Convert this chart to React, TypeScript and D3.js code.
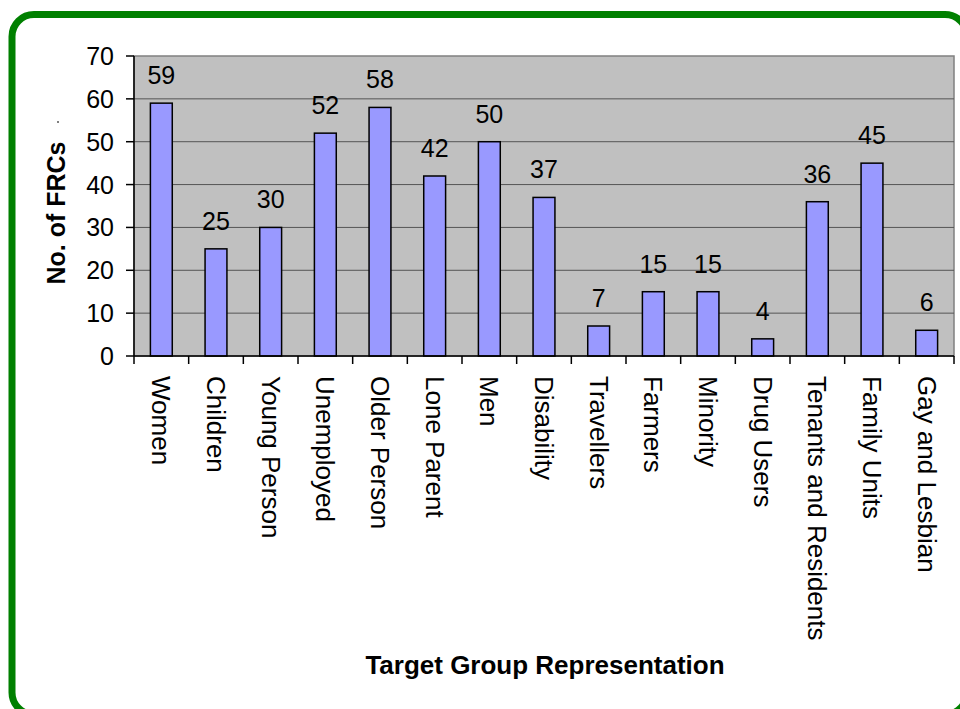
import React from "react";
import * as d3 from "d3";

const width = 960;
const height = 709;
const margin = { top: 56, right: 6, bottom: 353, left: 134 };

const groups = [
  "Women", "Children", "Young Person", "Unemployed", "Older Person", "Lone Parent", "Men",
  "Disability", "Travellers", "Farmers", "Minority", "Drug Users", "Tenants and Residents",
  "Family Units", "Gay and Lesbian",
];
const counts = [59, 25, 30, 52, 58, 42, 50, 37, 7, 15, 15, 4, 36, 45, 6];
const yTicks = [0, 10, 20, 30, 40, 50, 60, 70];

const font = "Arial, 'Liberation Sans', Helvetica, sans-serif";

export default function App() {
  const x = d3.scaleBand<string>()
    .domain(groups)
    .range([margin.left, width - margin.right])
    .paddingInner(0)
    .paddingOuter(0);
  const y = d3.scaleLinear()
    .domain([0, 70])
    .range([height - margin.bottom, margin.top]);

  const bw = x.bandwidth();
  const barW = bw * 0.4;
  const y0 = y(0);
  const boundaries = groups.map((g) => x(g) as number).concat([width - margin.right]);

  return (
    <svg width={width} height={height} style={{ position: "absolute", left: 0, top: 0, background: "#fff" }}>
      {/* green rounded frame, cut off by the page on the right and bottom */}
      <rect x={12} y={14.5} width={955} height={700} rx={22} ry={22} fill="none" stroke="#008000" strokeWidth={7} />

      <rect x={margin.left} y={margin.top} width={width - margin.right - margin.left}
        height={y0 - margin.top} fill="#C0C0C0" stroke="#808080" strokeWidth={1.5} />

      {yTicks.filter((t) => t > 0 && t < 70).map((t) => (
        <line key={t} x1={margin.left} x2={width - margin.right} y1={y(t)} y2={y(t)} stroke="#555" strokeWidth={1} />
      ))}

      {groups.map((g, i) => (
        <rect key={g} x={(x(g) as number) + bw / 2 - barW / 2} y={y(counts[i])}
          width={barW} height={y0 - y(counts[i])} fill="#9999FF" stroke="#000" strokeWidth={1.5} />
      ))}

      {groups.map((g, i) => (
        <text key={g} x={(x(g) as number) + bw / 2} y={y(counts[i]) - 19} textAnchor="middle"
          fontFamily={font} fontSize={25} fill="#000">{counts[i]}</text>
      ))}

      <line x1={margin.left} x2={margin.left} y1={margin.top} y2={y0} stroke="#000" strokeWidth={1.5} />
      <line x1={margin.left} x2={width - margin.right} y1={y0} y2={y0} stroke="#000" strokeWidth={1.5} />
      {yTicks.map((t) => (
        <g key={t}>
          <line x1={margin.left - 8} x2={margin.left} y1={y(t)} y2={y(t)} stroke="#000" strokeWidth={1.5} />
          <text x={114} y={y(t) + 9} textAnchor="end" fontFamily={font} fontSize={25} fill="#000">{t}</text>
        </g>
      ))}
      {boundaries.map((b, i) => (
        <line key={i} x1={b} x2={b} y1={y0} y2={y0 + 8} stroke="#000" strokeWidth={1.5} />
      ))}

      {groups.map((g) => {
        const cx = (x(g) as number) + bw / 2;
        return (
          <text key={g} transform={`translate(${cx - 9},${y0 + 20}) rotate(90)`} fontFamily={font}
            fontSize={26} fill="#000">{g}</text>
        );
      })}

      <text transform={`translate(65,${213}) rotate(-90)`} textAnchor="middle" fontFamily={font}
        fontSize={25} fontWeight="bold" fill="#000">No. of FRCs</text>
      <line x1={58} x2={58} y1={121} y2={123} stroke="#000" strokeWidth={1} />
      <text x={545} y={674} textAnchor="middle" fontFamily={font} fontSize={26} fontWeight="bold"
        fill="#000">Target Group Representation</text>
    </svg>
  );
}
